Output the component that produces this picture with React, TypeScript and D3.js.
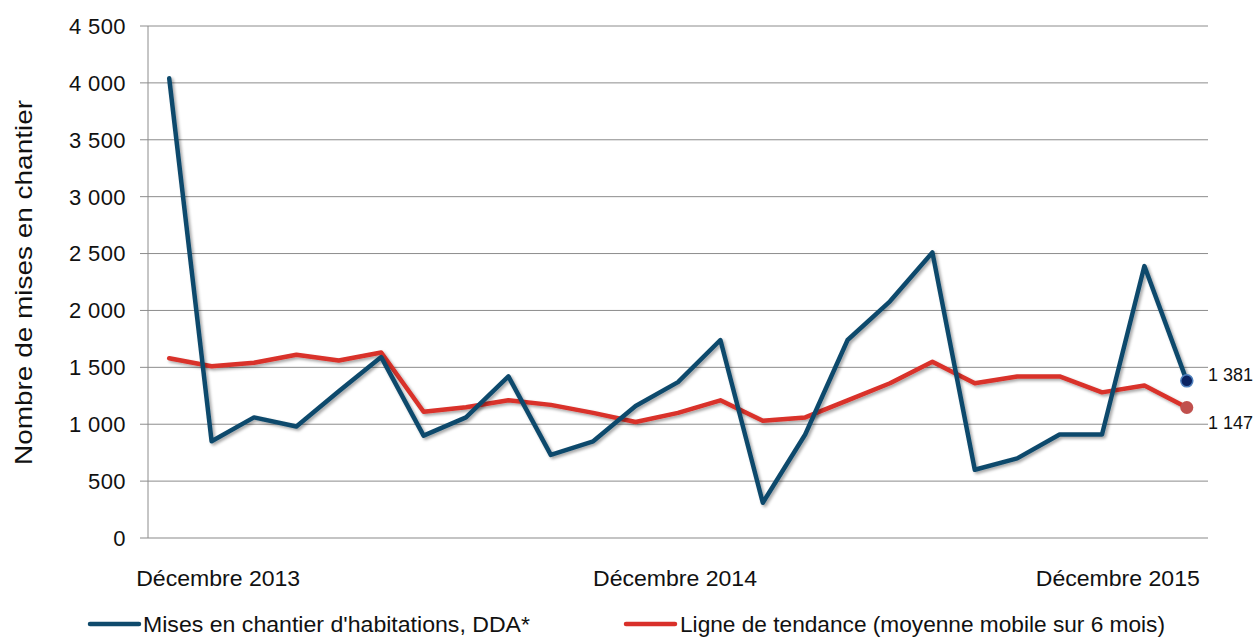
import React from "react";
import * as d3 from "d3";

const months = d3.range(25); // décembre 2013 -> décembre 2015
const miseEnChantier = [4040, 850, 1060, 980, 1290, 1590, 900, 1060, 1420, 730, 850, 1160, 1370, 1740, 310, 910, 1740, 2080, 2510, 600, 700, 910, 910, 2390, 1381];
const tendance = [1580, 1510, 1540, 1610, 1560, 1630, 1110, 1150, 1210, 1170, 1100, 1020, 1100, 1210, 1030, 1060, 1210, 1360, 1550, 1360, 1420, 1420, 1280, 1340, 1147];
const xLabels = [
  { i: 0, text: "Décembre 2013" },
  { i: 12, text: "Décembre 2014" },
  { i: 24, text: "Décembre 2015" },
];
const yTicks = [0, 500, 1000, 1500, 2000, 2500, 3000, 3500, 4000, 4500];

const BLUE = "#0f4a6c";
const RED = "#d9302a";

export default function App() {
  const W = 1253, H = 637;
  const left = 148, right = 1208, top = 26, bottom = 538;

  const x = d3.scaleBand<number>().domain(months).range([left, right]);
  const cx = (i: number) => (x(i) as number) + x.bandwidth() / 2;
  const y = d3.scaleLinear().domain([0, 4500]).range([bottom, top]);
  const fmt = (v: number) => d3.format(",")(v).replace(/,/g, " ");

  const line = d3.line<number>().x((_, i) => cx(i)).y(d => y(d));
  const font = "'Liberation Sans', Arial, sans-serif";
  const last = months.length - 1;

  return (
    <svg width={W} height={H} style={{ position: "absolute", left: 0, top: 0, fontFamily: font }}>
      <defs>
        <filter id="shadow" x="-10%" y="-10%" width="120%" height="120%">
          <feDropShadow dx="2" dy="2" stdDeviation="1.6" floodColor="#000" floodOpacity="0.35" />
        </filter>
      </defs>
      <rect width={W} height={H} fill="#fff" />

      {/* grid */}
      {yTicks.map(t => (
        <g key={t}>
          <line x1={left - 8} x2={right} y1={y(t)} y2={y(t)} stroke={t === 0 ? "#b0b0b0" : "#8c8c8c"} strokeWidth={t === 0 ? 1.5 : 1} />
          <text x={left - 22} y={y(t)} dy="0.36em" textAnchor="end" fontSize={22} letterSpacing={0.4} fill="#111">{fmt(t)}</text>
        </g>
      ))}
      <line x1={left} x2={left} y1={top} y2={bottom} stroke="#8c8c8c" />

      <text transform={`translate(32,${(100 + 465) / 2}) rotate(-90)`} textAnchor="middle" fontSize={24} fill="#111"
        textLength={365} lengthAdjust="spacingAndGlyphs">
        Nombre de mises en chantier
      </text>

      {/* x labels */}
      {xLabels.map((l, k) => (
        <text key={l.i}
          x={k === 0 ? cx(l.i) - 33 : k === 2 ? cx(l.i) + 13 : cx(l.i) - 3}
          y={586}
          textAnchor={k === 0 ? "start" : k === 2 ? "end" : "middle"}
          fontSize={22} fill="#111" textLength={164} lengthAdjust="spacingAndGlyphs">{l.text}</text>
      ))}

      {/* series */}
      <path d={line(tendance) as string} fill="none" stroke={RED} strokeWidth={4.5} strokeLinejoin="round" strokeLinecap="round" filter="url(#shadow)" />
      <path d={line(miseEnChantier) as string} fill="none" stroke={BLUE} strokeWidth={4.5} strokeLinejoin="round" strokeLinecap="round" filter="url(#shadow)" />

      <circle cx={cx(last)} cy={y(tendance[last])} r={6.5} fill="#c0504d" />
      <circle cx={cx(last)} cy={y(miseEnChantier[last])} r={6} fill="#0b2463" stroke="#4f81bd" strokeWidth={1.5} />

      <text x={right} y={y(miseEnChantier[last]) - 6} dy="0.35em" fontSize={18} fill="#111">{fmt(miseEnChantier[last])}</text>
      <text x={right} y={y(tendance[last]) + 15} dy="0.35em" fontSize={18} fill="#111">{fmt(tendance[last])}</text>

      {/* legend */}
      <line x1={90} x2={139} y1={624} y2={624} stroke={BLUE} strokeWidth={4.5} strokeLinecap="round" />
      <text x={143} y={624} dy="0.35em" fontSize={22} fill="#111" textLength={387} lengthAdjust="spacingAndGlyphs">Mises en chantier d'habitations, DDA*</text>
      <line x1={626} x2={675} y1={624} y2={624} stroke={RED} strokeWidth={4.5} strokeLinecap="round" />
      <text x={680} y={624} dy="0.35em" fontSize={22} fill="#111" textLength={485} lengthAdjust="spacingAndGlyphs">Ligne de tendance (moyenne mobile sur 6 mois)</text>
    </svg>
  );
}
